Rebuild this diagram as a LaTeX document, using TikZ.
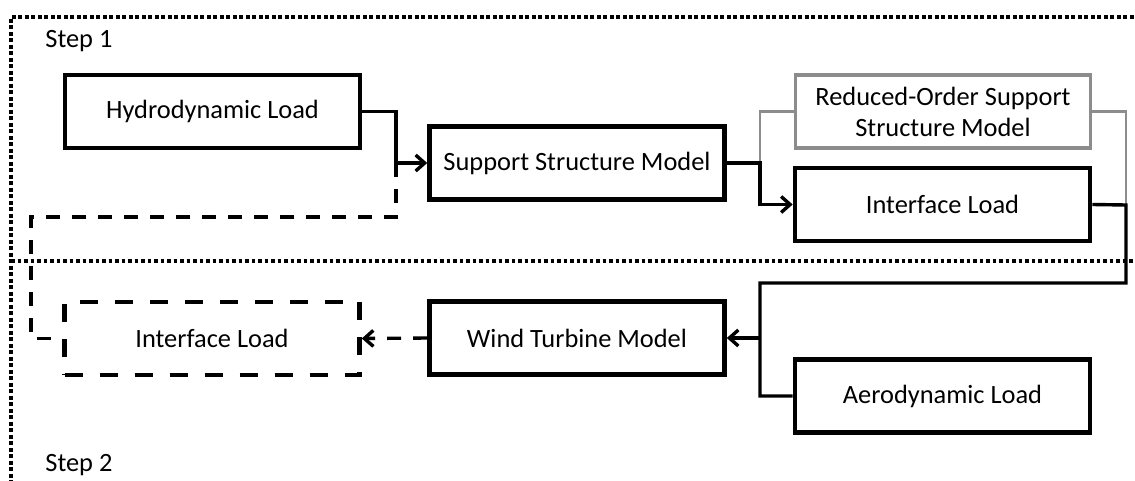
\documentclass[tikz,border=0pt]{standalone}
\usepackage{fontspec}
\setmainfont{Carlito}
\usetikzlibrary{arrows.meta}
\definecolor{midgray}{RGB}{140,140,140}
\tikzset{
  px/.style={x=0.5pt,y=-0.5pt},
  blk/.style={draw=black,line width=2.3pt,minimum width=147.5pt,minimum height=36.5pt,
    inner sep=0pt,font=\fontsize{13.2}{15.5}\selectfont,align=center},
  grayblk/.style={blk,draw=midgray,line width=1.9pt},
  dashblk/.style={blk,dash pattern=on 9pt off 8.5pt},
  conn/.style={draw=black,line width=1.7pt},
  gconn/.style={draw=midgray,line width=1.4pt},
  dconn/.style={conn,dash pattern=on 7pt off 6pt},
  arr/.style={-{Straight Barb[length=4.5pt,width=8pt,line width=1.7pt]}},
  frame/.style={draw=black,line width=1.8pt,dash pattern=on 1.8pt off 1.45pt},
  steplabel/.style={font=\fontsize{13.2}{15.5}\selectfont,anchor=base west,inner sep=0pt}
}
\begin{document}
\begin{tikzpicture}[px]
\useasboundingbox (0,0) rectangle (1135,481);

% dotted outline of the two stages
\draw[frame] (1140,17) -- (11,17) -- (11,490);
\draw[frame] (11,261) -- (1140,261);
\node[steplabel] (s1) at (45,48) {Step 1};
\node[steplabel] (s2) at (45,471) {Step 2};

% blocks
\node[blk] (hydro) at (212.5,111.5) {Hydrodynamic Load};
\node[blk] (ssm) at (577,163) {Support Structure Model};
\node[grayblk] (rom) at (943,111.5) {Reduced-Order Support\\Structure Model};
\node[blk] (ifl) at (942.5,204.5) {Interface Load};
\node[blk] (wtm) at (577,338) {Wind Turbine Model};
\node[blk] (aero) at (942.5,396) {Aerodynamic Load};
\node[dashblk] (ifl2) at (212,338.5) {Interface Load};

% junction points
\coordinate (j1) at (396,163);
\coordinate (fb) at (31,217);
\coordinate (j2) at (760,163);
\coordinate (j3) at (1126,205);
\coordinate (j4) at (760,283);
\coordinate (j5) at (760,338);

% step 1 connectors
\draw[conn] (hydro.east) -| (j1);
\draw[conn,arr] (j1) -- (ssm.west);
\draw[dconn] (j1) |- (fb) |- (ifl2.west);
\draw[gconn] (j2) |- (rom.west);
\draw[gconn] (rom.east) -| (j3);
\draw[conn,arr] (ssm.east) -- (j2) |- (ifl.west);

% step 2 connectors
\draw[conn] (ifl.east) -- (j3) |- (j4) |- (aero.west);
\draw[conn,arr] (j5) -- (wtm.east);
\draw[dconn,arr] (wtm.west) -- (ifl2.east);
\end{tikzpicture}
\end{document}
